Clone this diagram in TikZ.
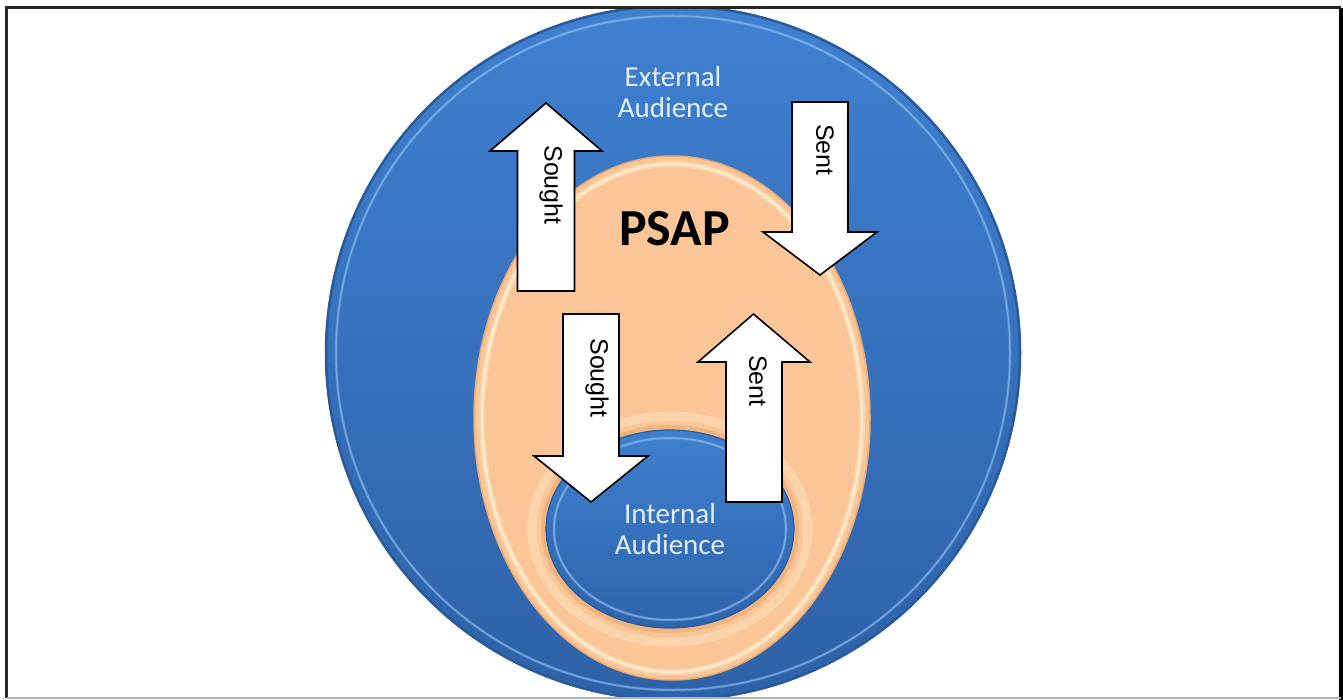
\documentclass[tikz,border=0pt]{standalone}
\usepackage{fontspec}
\setmainfont{Carlito}
\newfontfamily\arrowfont{Liberation Sans}

\definecolor{outertop}{HTML}{3F80D0}
\definecolor{outerbot}{HTML}{2E62A8}
\definecolor{outerdark}{HTML}{2A5A9A}
\definecolor{outerhi}{HTML}{8FC0F2}
\definecolor{peach}{HTML}{FAC597}
\definecolor{peachdark}{HTML}{EDA970}
\definecolor{cream}{HTML}{FFF0D2}
\definecolor{innertop}{HTML}{3F7FCC}
\definecolor{innerbot}{HTML}{2F64AC}
\definecolor{innerhi}{HTML}{88B8EC}
\definecolor{innerdark}{HTML}{2B5A98}
\definecolor{labelwhite}{HTML}{E2EEFB}

\begin{document}
\begin{tikzpicture}[x=1pt,y=-1pt,
  flowarrow/.style={fill=white, draw=black, line width=1.6pt, line join=miter},
  arrowlabel/.style={font=\arrowfont\fontsize{25}{25}\selectfont, rotate=-90, inner sep=0pt},
  audlabel/.style={font=\fontsize{29}{31}\selectfont, text=labelwhite, align=center, inner sep=0pt},
  titlelabel/.style={font=\bfseries\fontsize{52}{52}\selectfont, inner sep=0pt}
]
\useasboundingbox (0,0) rectangle (1343,700);
\fill[white] (0,0) rectangle (1343,700);

% outer ring: external audience
\begin{scope}
  \clip (7,9) rectangle (1340,697);
  \shade[top color=outertop, bottom color=outerbot] (673,353) circle[radius=348];
  \draw[outerdark, line width=2.5pt] (673,353) circle[radius=347];
  \draw[outerhi, line width=3pt, opacity=0.25] (673,353) circle[radius=337];
  \draw[outerhi, line width=1.5pt, opacity=0.6] (673,353) circle[radius=337];
\end{scope}

% middle ellipse: PSAP
\fill[peach] (672,418) ellipse[x radius=198, y radius=262];
\draw[peachdark, line width=1.5pt] (672,418) ellipse[x radius=198, y radius=262];
\draw[cream, line width=6pt, opacity=0.4] (672,418) ellipse[x radius=190, y radius=254];
\draw[cream, line width=2pt, opacity=0.9] (672,418) ellipse[x radius=190, y radius=254];

% inner ellipse: internal audience
\draw[cream, line width=9pt, opacity=0.35] (670,529) ellipse[x radius=138, y radius=113];
\draw[peachdark, line width=4pt, opacity=0.6] (670,529) ellipse[x radius=127, y radius=102];
\shade[top color=innertop, bottom color=innerbot] (670,529) ellipse[x radius=124, y radius=99];
\draw[innerdark, line width=1.2pt] (670,529) ellipse[x radius=124, y radius=99];
\draw[innerhi, line width=3pt, opacity=0.3] (670,529) ellipse[x radius=116, y radius=91];
\draw[innerhi, line width=1.5pt, opacity=0.7] (670,529) ellipse[x radius=116, y radius=91];

% frame
\draw[black!85, line width=3pt] (6.5,698) -- (6.5,8) -- (1341,8);
\draw[black, line width=4pt] (1341,8) -- (1341,700);
\draw[gray!60, line width=1.5pt] (6.5,698) -- (1341,698);

% labels
\node[audlabel] (ext) at (673,92) {External\\Audience};
\node[titlelabel] (psap) at (674.5,229) {PSAP};
\node[audlabel] (int) at (670,529) {Internal\\Audience};

% arrows
\draw[flowarrow] (546,103) -- (602,151) -- (574.5,151) -- (574.5,291)
  -- (517.5,291) -- (517.5,151) -- (490,151) -- cycle;
\node[arrowlabel] (soughtout) at (551,185) {Sought};

\draw[flowarrow] (792,102) -- (848,102) -- (848,232) -- (877,232)
  -- (820,275) -- (763,232) -- (792,232) -- cycle;
\node[arrowlabel] (sentin) at (825,150) {Sent};

\draw[flowarrow] (563,314) -- (619,314) -- (619,456) -- (648,456)
  -- (591,502) -- (534,456) -- (563,456) -- cycle;
\node[arrowlabel] (soughtin) at (597,378) {Sought};

\draw[flowarrow] (753.5,314) -- (810,362) -- (782,362) -- (782,502)
  -- (726,502) -- (726,362) -- (698,362) -- cycle;
\node[arrowlabel] (sentout) at (758,381) {Sent};
\end{tikzpicture}
\end{document}
